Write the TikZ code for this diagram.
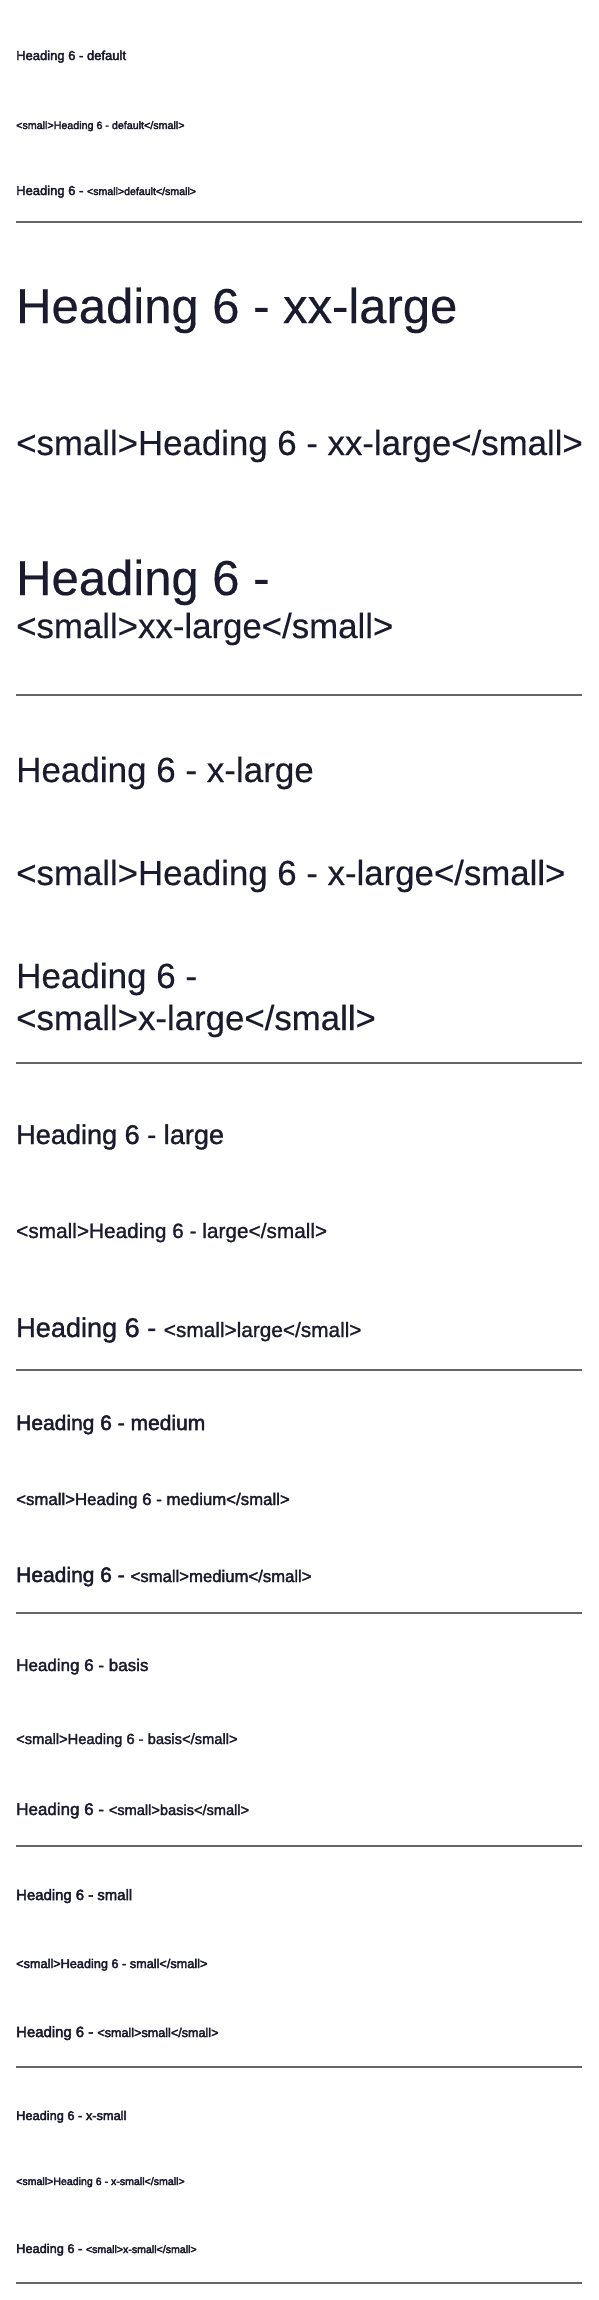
\documentclass[tikz,border=0pt]{standalone}
\usepackage{fontspec}
\setmainfont{Liberation Sans}
\newfontfamily\regf{Liberation Sans}[FakeBold=0.3]
\newfontfamily\medf{Liberation Sans}[FakeBold=1.2]
\newfontfamily\semf{Liberation Sans}[FakeBold=2.2]
\newfontfamily\tinyf{Liberation Sans}[FakeBold=3.2]
\definecolor{ink}{HTML}{1B1B2F}
\definecolor{rulegray}{HTML}{666666}
\newcommand{\fs}[1]{\fontsize{#1}{#1}\selectfont}
\tikzset{
  txt/.style={anchor=base west, inner sep=0pt, text=ink, align=left},
  sep/.style={draw=rulegray, line width=1.4pt}
}
\begin{document}
\begin{tikzpicture}[x=1pt,y=-1pt]
\useasboundingbox[fill=white] (0,0) rectangle (598,2300);
% default
\node[txt, font=\tinyf\fs{13}] (d1) at (16,60) {Heading 6 - default};
\node[txt, font=\tinyf\fs{10.7}] (d2) at (16,129) {<small>Heading 6 - default</small>};
\node[txt, font=\tinyf\fs{13}] (d3) at (16,195) {Heading 6 - {\fs{10.6}<small>default</small>}};
\coordinate (r1a) at (16,222); \coordinate (r1b) at (582,222);
\draw[sep] (r1a) -- (r1b);
% xx-large
\node[txt, font=\regf\fs{49}] (xx1) at (16,323) {Heading 6 - xx-large};
\node[txt, font=\regf\fs{34.8}] (xx2) at (16,455) {<small>Heading 6 - xx-large</small>};
\node[txt, font=\regf\fs{49}] (xx3) at (16,595) {Heading 6 -};
\node[txt, font=\regf\fs{34.8}] (xx4) at (16,638) {<small>xx-large</small>};
\coordinate (r2a) at (16,695); \coordinate (r2b) at (582,695);
\draw[sep] (r2a) -- (r2b);
% x-large
\node[txt, font=\regf\fs{35}] (x1) at (16,782) {Heading 6 - x-large};
\node[txt, font=\regf\fs{34.8}] (x2) at (16,885) {<small>Heading 6 - x-large</small>};
\node[txt, font=\regf\fs{35}] (x3) at (16,988) {Heading 6 -};
\node[txt, font=\regf\fs{34.8}] (x4) at (16,1030) {<small>x-large</small>};
\coordinate (r3a) at (16,1063); \coordinate (r3b) at (582,1063);
\draw[sep] (r3a) -- (r3b);
% large
\node[txt, font=\medf\fs{27.1}] (l1) at (16,1144) {Heading 6 - large};
\node[txt, font=\medf\fs{20.8}] (l2) at (16,1238) {<small>Heading 6 - large</small>};
\node[txt, font=\medf\fs{27.1}] (l3) at (16,1337) {Heading 6 - {\fs{20.8}<small>large</small>}};
\coordinate (r4a) at (16,1370); \coordinate (r4b) at (582,1370);
\draw[sep] (r4a) -- (r4b);
% medium
\node[txt, font=\semf\fs{21}] (m1) at (16,1430) {Heading 6 - medium};
\node[txt, font=\semf\fs{16.8}] (m2) at (16,1505) {<small>Heading 6 - medium</small>};
\node[txt, font=\semf\fs{21}] (m3) at (16,1582) {Heading 6 - {\fs{16.7}<small>medium</small>}};
\coordinate (r5a) at (16,1613); \coordinate (r5b) at (582,1613);
\draw[sep] (r5a) -- (r5b);
% basis
\node[txt, font=\semf\fs{17}] (b1) at (16,1671) {Heading 6 - basis};
\node[txt, font=\semf\fs{14.7}] (b2) at (16,1744) {<small>Heading 6 - basis</small>};
\node[txt, font=\semf\fs{17}] (b3) at (16,1815) {Heading 6 - {\fs{14.6}<small>basis</small>}};
\coordinate (r6a) at (16,1846); \coordinate (r6b) at (582,1846);
\draw[sep] (r6a) -- (r6b);
% small
\node[txt, font=\tinyf\fs{14.9}] (s1) at (16,1900) {Heading 6 - small};
\node[txt, font=\tinyf\fs{12.7}] (s2) at (16,1968) {<small>Heading 6 - small</small>};
\node[txt, font=\tinyf\fs{14.9}] (s3) at (16,2037) {Heading 6 - {\fs{12.6}<small>small</small>}};
\coordinate (r7a) at (16,2067); \coordinate (r7b) at (582,2067);
\draw[sep] (r7a) -- (r7b);
% x-small
\node[txt, font=\tinyf\fs{12.8}] (xs1) at (16,2120) {Heading 6 - x-small};
\node[txt, font=\tinyf\fs{10.6}] (xs2) at (16,2185) {<small>Heading 6 - x-small</small>};
\node[txt, font=\tinyf\fs{12.8}] (xs3) at (16,2253) {Heading 6 - {\fs{10.6}<small>x-small</small>}};
\coordinate (r8a) at (16,2283); \coordinate (r8b) at (582,2283);
\draw[sep] (r8a) -- (r8b);
\end{tikzpicture}
\end{document}
